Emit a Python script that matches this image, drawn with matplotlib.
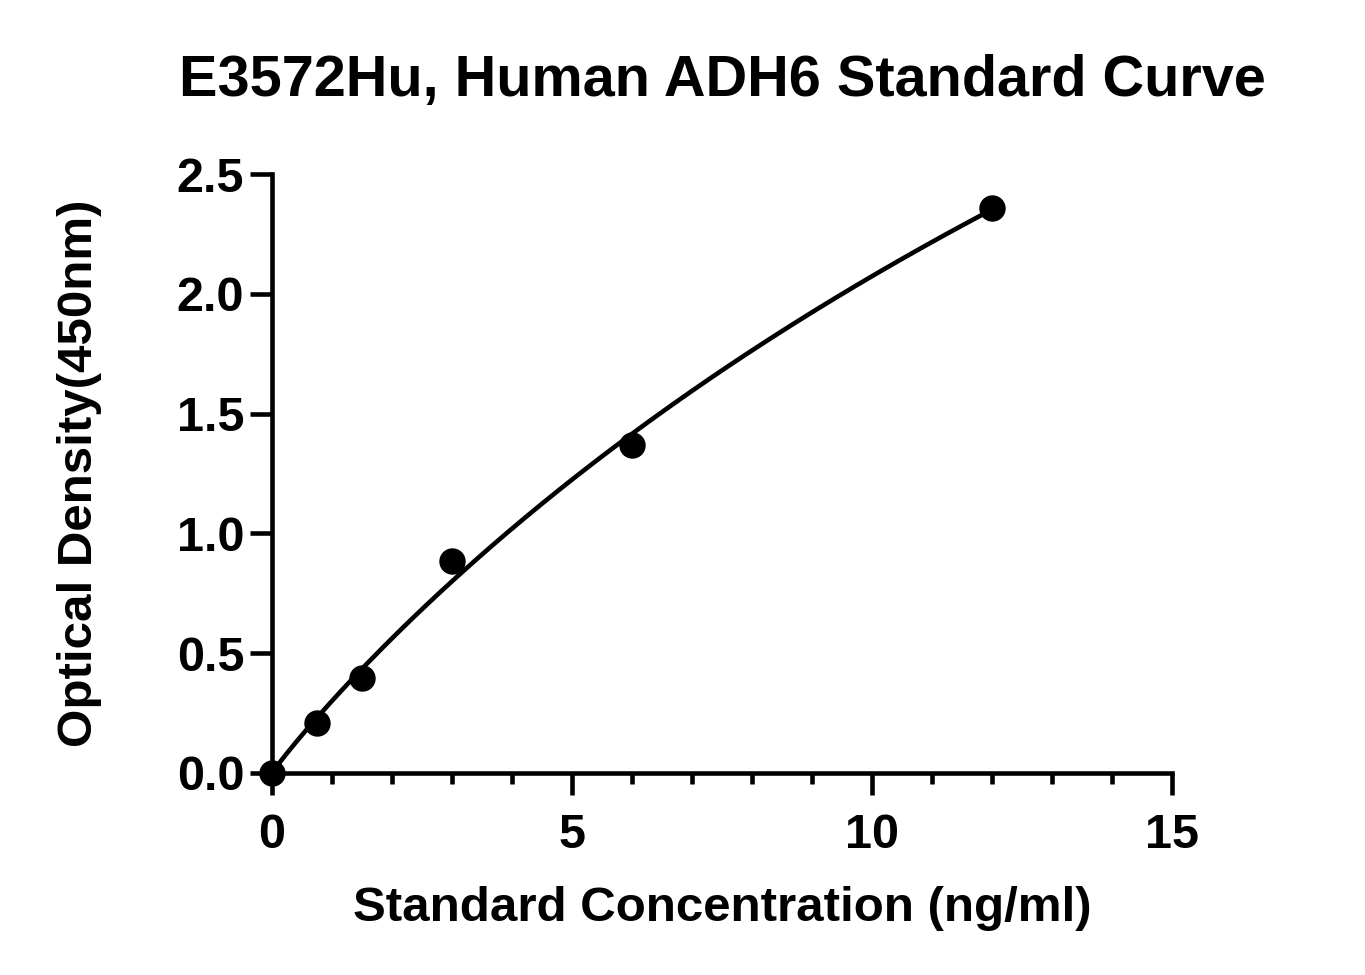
import numpy as np
import matplotlib.pyplot as plt
from matplotlib.ticker import MultipleLocator

plt.rcParams['font.family'] = ['Liberation Sans', 'DejaVu Sans']
plt.rcParams['font.weight'] = 'bold'

# standard points
conc = [0, 0.75, 1.5, 3, 6, 12]
od = [0.0, 0.21, 0.395, 0.885, 1.37, 2.36]

title = "E3572Hu, Human ADH6 Standard Curve"
xlabel = "Standard Concentration (ng/ml)"
ylabel = "Optical Density(450nm)"

# logistic fit (bottom fixed at 0): y = top * x^b / (c^b + x^b)
x = np.array(conc, float)
y = np.array(od, float)
best = None
for b in np.linspace(0.8, 1.8, 101):
    for c in np.linspace(3, 80, 309):
        f = x**b / (c**b + x**b)
        top = (f @ y) / (f @ f)
        err = np.sum((y - top * f) ** 2)
        if best is None or err < best[0]:
            best = (err, top, b, c)
_, top, b, c = best
xs = np.linspace(0, 12, 300)
ys = top * xs**b / (c**b + xs**b)

fig = plt.figure(figsize=(13.65, 9.75), dpi=100)
ax = fig.add_axes([0.1993, 0.2072, 0.6593, 0.6143])

ax.plot(xs, ys, color="black", lw=3.3, clip_on=False)
ax.plot(conc, od, "o", color="black", ms=18, clip_on=False, zorder=5)

ax.set_xlim(0, 15)
ax.set_ylim(0, 2.5)
ax.xaxis.set_major_locator(MultipleLocator(5))
ax.xaxis.set_minor_locator(MultipleLocator(1))
ax.yaxis.set_major_locator(MultipleLocator(0.5))
ax.yaxis.set_major_formatter(plt.FormatStrFormatter("%.1f"))

for s in ["top", "right"]:
    ax.spines[s].set_visible(False)
for s in ["left", "bottom"]:
    ax.spines[s].set_linewidth(3.3)

ax.tick_params(which="major", length=16, width=3.3, labelsize=35, pad=4)
ax.tick_params(which="minor", length=8, width=3.3)
ax.tick_params(axis="x", which="major", pad=13)

ax.set_xlabel(xlabel, fontsize=35.5, fontweight="bold", labelpad=20)
ax.set_ylabel(ylabel, fontsize=35.5, fontweight="bold", labelpad=54)
ax.set_title(title, fontsize=41.5, fontweight="bold", pad=56)

fig.savefig("out.png", dpi=100)
